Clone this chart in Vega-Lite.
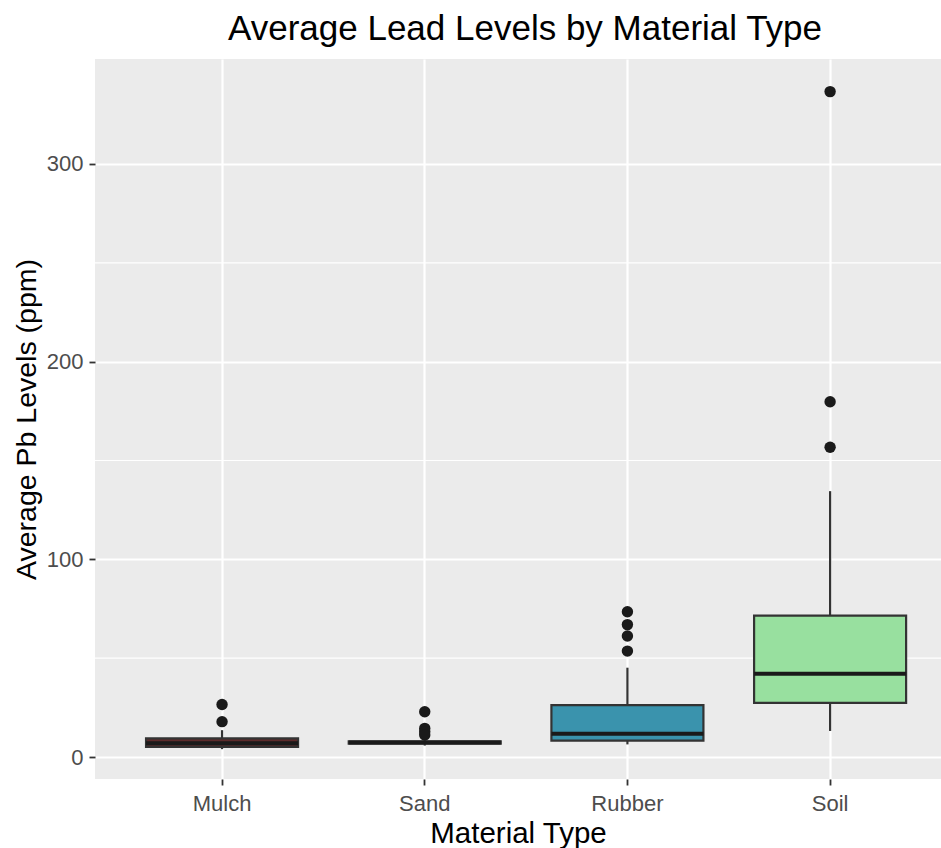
{
  "$schema": "https://vega.github.io/schema/vega-lite/v6.json",
  "autosize": {"type": "none"},
  "padding": {"left": 95, "top": 59, "right": 0, "bottom": 69},
  "width": 846,
  "height": 720,
  "background": "white",
  "config": {
    "view": {"fill": "#EBEBEB", "stroke": null},
    "font": "Liberation Sans"
  },
  "title": {
    "text": "Average Lead Levels by Material Type",
    "fontSize": 35,
    "fontWeight": "normal",
    "color": "black",
    "font": "Liberation Sans",
    "anchor": "middle",
    "baseline": "alphabetic",
    "offset": 0,
    "dy": 16,
    "dx": 7
  },
  "datasets": {
    "summary": [
      {"material": "Mulch", "lower": 4.0, "q1": 5.2, "median": 7.0, "q3": 9.4, "upper": 13.6},
      {"material": "Sand", "lower": 5.8, "q1": 6.8, "median": 7.3, "q3": 8.0, "upper": 9.5},
      {"material": "Rubber", "lower": 6.4, "q1": 8.3, "median": 11.8, "q3": 26.3, "upper": 45.2},
      {"material": "Soil", "lower": 13.2, "q1": 27.4, "median": 42.2, "q3": 71.5, "upper": 134.5}
    ],
    "outliers": [
      {"material": "Mulch", "value": 26.6},
      {"material": "Mulch", "value": 17.9},
      {"material": "Sand", "value": 22.9},
      {"material": "Sand", "value": 14.5},
      {"material": "Sand", "value": 12.8},
      {"material": "Sand", "value": 11.2},
      {"material": "Rubber", "value": 73.5},
      {"material": "Rubber", "value": 67.0},
      {"material": "Rubber", "value": 61.2},
      {"material": "Rubber", "value": 53.6},
      {"material": "Soil", "value": 336.6},
      {"material": "Soil", "value": 179.7},
      {"material": "Soil", "value": 156.7}
    ],
    "minor": [{"v": 50}, {"v": 150}, {"v": 250}]
  },
  "layer": [
    {
      "data": {"name": "minor"},
      "mark": {"type": "rule", "color": "white", "strokeWidth": 1.2},
      "encoding": {
        "y": {"field": "v", "type": "quantitative", "scale": {"domain": [-11.1, 353.1], "nice": false, "zero": false}}
      }
    },
    {
      "data": {"name": "summary"},
      "mark": {"type": "rule", "color": "#333333", "strokeWidth": 2.2},
      "encoding": {
        "x": {
          "field": "material", "type": "nominal",
          "sort": ["Mulch", "Sand", "Rubber", "Soil"],
          "scale": {"paddingInner": 0.25, "paddingOuter": 0.212, "align": 0.594},
          "axis": {
            "title": "Material Type",
            "titleFontSize": 29.5,
            "titleFontWeight": "normal",
            "titleColor": "black",
            "titlePadding": 5,
            "labelFontSize": 22,
            "labelColor": "#4d4d4d",
            "labelAngle": 0,
            "labelPadding": 8,
            "tickColor": "#333333",
            "tickSize": 6,
            "tickWidth": 1.8,
            "domain": false,
            "grid": true,
            "gridColor": "white",
            "gridWidth": 2.2,
            "bandPosition": 0.5
          }
        },
        "y": {
          "field": "lower", "type": "quantitative",
          "scale": {"domain": [-11.1, 353.1], "nice": false, "zero": false},
          "axis": {
            "title": "Average Pb Levels (ppm)",
            "values": [0, 100, 200, 300],
            "titleFontSize": 28.5,
            "titleFontWeight": "normal",
            "titleColor": "black",
            "titlePadding": 5,
            "labelFontSize": 22,
            "labelColor": "#4d4d4d",
            "labelPadding": 6,
            "tickColor": "#333333",
            "tickSize": 6,
            "tickWidth": 1.8,
            "domain": false,
            "grid": true,
            "gridColor": "white",
            "gridWidth": 2.2
          }
        },
        "y2": {"field": "upper"}
      }
    },
    {
      "data": {"name": "summary"},
      "mark": {"type": "bar", "stroke": "#333333", "strokeWidth": 2.2},
      "encoding": {
        "x": {"field": "material", "type": "nominal", "sort": ["Mulch", "Sand", "Rubber", "Soil"]},
        "y": {"field": "q1", "type": "quantitative"},
        "y2": {"field": "q3"},
        "fill": {
          "field": "material", "type": "nominal",
          "scale": {"domain": ["Mulch", "Sand", "Rubber", "Soil"], "range": ["#5c2b2b", "#d9c28f", "#3a93ad", "#98e09f"]},
          "legend": null
        }
      }
    },
    {
      "data": {"name": "summary"},
      "mark": {"type": "tick", "color": "#1a1a1a", "thickness": 4, "size": 152, "opacity": 1},
      "encoding": {
        "x": {"field": "material", "type": "nominal", "sort": ["Mulch", "Sand", "Rubber", "Soil"]},
        "y": {"field": "median", "type": "quantitative"}
      }
    },
    {
      "data": {"name": "outliers"},
      "mark": {"type": "point", "filled": true, "color": "#1a1a1a", "size": 130, "opacity": 1},
      "encoding": {
        "x": {"field": "material", "type": "nominal", "sort": ["Mulch", "Sand", "Rubber", "Soil"]},
        "y": {"field": "value", "type": "quantitative"}
      }
    }
  ]
}
